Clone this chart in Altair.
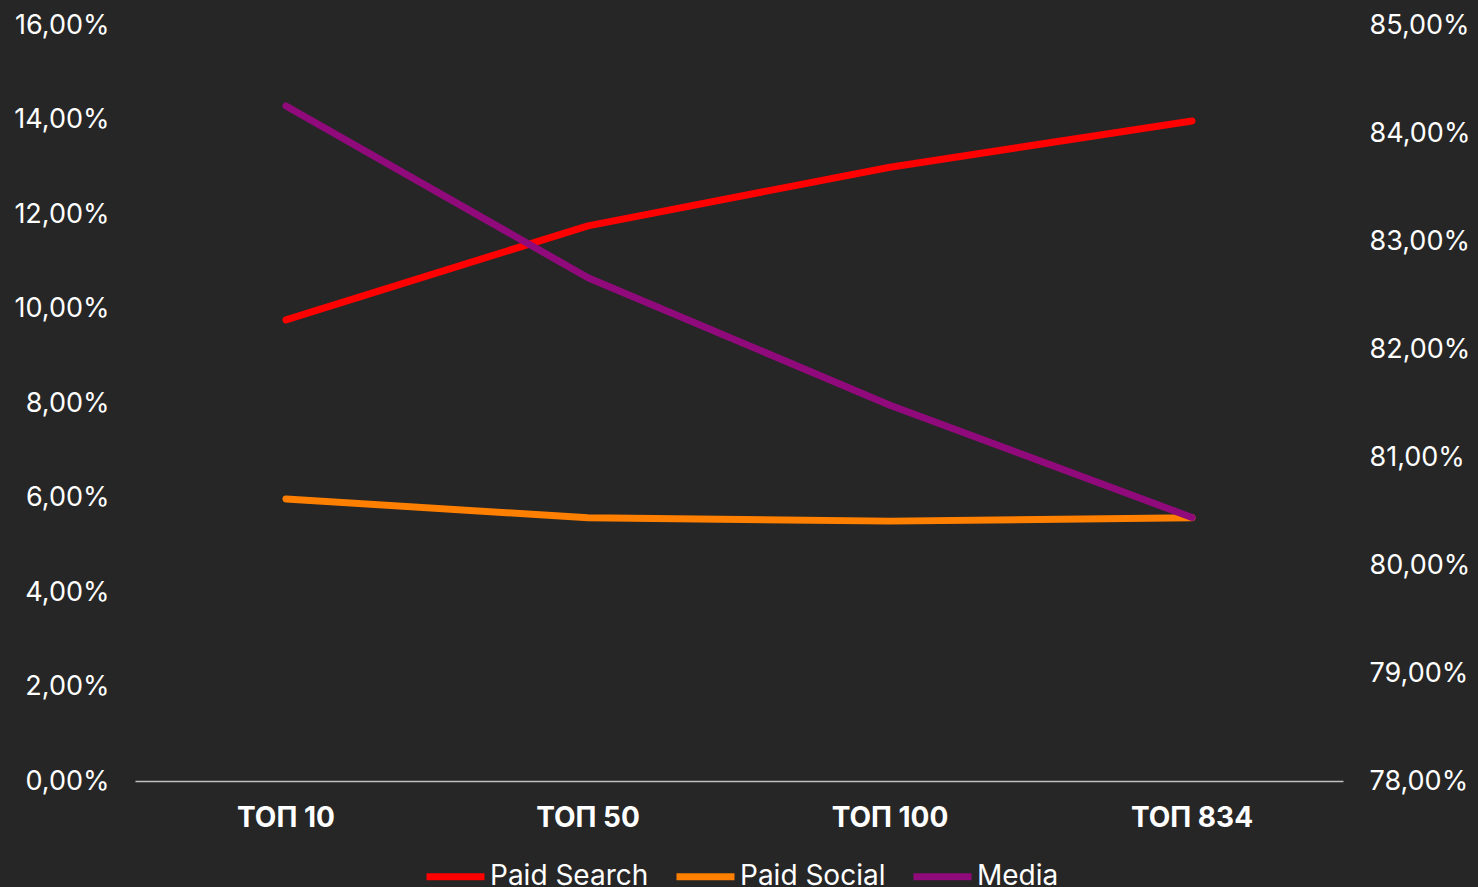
import altair as alt
import pandas as pd

categories = ["ТОП 10", "ТОП 50", "ТОП 100", "ТОП 834"]
paid_search = [9.76, 11.75, 12.99, 13.97]
paid_social = [5.97, 5.57, 5.50, 5.57]
media = [84.25, 82.66, 81.48, 80.44]

series_names = ["Paid Search", "Paid Social", "Media"]
series_colors = ["#FF0000", "#FF7F00", "#910A7C"]

left_df = pd.DataFrame(
    [{"cat": c, "series": "Paid Search", "value": v} for c, v in zip(categories, paid_search)]
    + [{"cat": c, "series": "Paid Social", "value": v} for c, v in zip(categories, paid_social)]
)
right_df = pd.DataFrame([{"cat": c, "series": "Media", "value": v} for c, v in zip(categories, media)])

FONT = "Inter"
label_expr = "replace(format(datum.value, '.2f'), '.', ',') + '%'"

x_enc = alt.X(
    "cat:N",
    sort=categories,
    scale=alt.Scale(type="band", paddingInner=0, paddingOuter=0),
    axis=alt.Axis(
        title=None, labelAngle=0, ticks=False, domain=True, domainColor="#BFBFBF",
        domainWidth=1.5, labelFont=FONT, labelFontSize=28, labelFontWeight="bold",
        labelColor="#FFFFFF", labelPadding=23,
    ),
)

color_enc = alt.Color(
    "series:N",
    scale=alt.Scale(domain=series_names, range=series_colors),
    legend=alt.Legend(
        title=None, orient="none", direction="horizontal", legendX=288, legendY=819,
        symbolType="stroke", symbolStrokeWidth=7, symbolSize=3364,
        labelFont=FONT, labelFontSize=28, labelColor="#FFFFFF",
        labelOffset=2, columnPadding=13, labelBaseline="middle",
    ),
)

left = alt.Chart(left_df).mark_line(strokeWidth=7, strokeCap="round", strokeJoin="round").encode(
    x=x_enc,
    y=alt.Y(
        "value:Q",
        scale=alt.Scale(domain=[0, 16], nice=False),
        axis=alt.Axis(
            title=None, values=[0, 2, 4, 6, 8, 10, 12, 14, 16], labelExpr=label_expr,
            grid=False, ticks=False, domain=False, labelFont=FONT, labelFontSize=27,
            labelColor="#FFFFFF", labelPadding=26,
        ),
    ),
    color=color_enc,
    detail="series:N",
)

right = alt.Chart(right_df).mark_line(strokeWidth=7, strokeCap="round", strokeJoin="round").encode(
    x=x_enc,
    y=alt.Y(
        "value:Q",
        scale=alt.Scale(domain=[78, 85], nice=False),
        axis=alt.Axis(
            title=None, orient="right", values=[78, 79, 80, 81, 82, 83, 84, 85],
            labelExpr=label_expr, grid=False, ticks=False, domain=False,
            labelFont=FONT, labelFontSize=27, labelColor="#FFFFFF", labelPadding=26,
        ),
    ),
    color=color_enc,
)

chart = (
    alt.layer(left, right)
    .resolve_scale(y="independent")
    .properties(
        width=1208, height=756, background="#262626",
        padding={"left": 135, "top": 25, "right": 135, "bottom": 106},
        autosize=alt.AutoSizeParams(type="none"),
    )
    .configure_view(stroke=None)
)

chart.save("out.html", embed_options={"renderer": "svg", "actions": False})
